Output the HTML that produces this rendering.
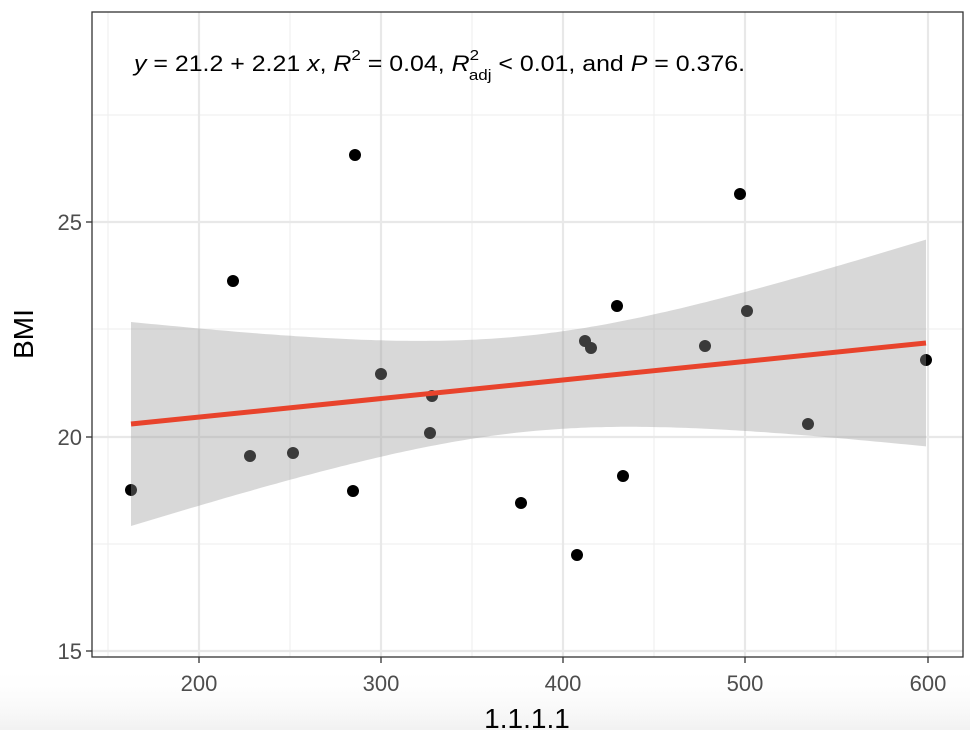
<!DOCTYPE html>
<html><head><meta charset="utf-8"><style>
html,body{margin:0;padding:0;background:#fff;}
svg{display:block;font-family:"Liberation Sans",Arial,sans-serif;}
</style></head><body>
<svg width="970" height="730" viewBox="0 0 970 730" xmlns="http://www.w3.org/2000/svg">
<defs><linearGradient id="fade" x1="0" y1="0" x2="0" y2="1"><stop offset="0" stop-color="#fff" stop-opacity="0"/><stop offset="1" stop-color="#eee" stop-opacity="0.8"/></linearGradient></defs>
<rect x="0" y="665" width="970" height="65" fill="url(#fade)"/>
<rect x="92" y="12" width="871" height="645" fill="#fff"/>
<g stroke="#f0f0f0" stroke-width="1.2">
<line x1="108" y1="12" x2="108" y2="657"/><line x1="290" y1="12" x2="290" y2="657"/><line x1="472" y1="12" x2="472" y2="657"/><line x1="654" y1="12" x2="654" y2="657"/><line x1="836" y1="12" x2="836" y2="657"/>
<line x1="92" y1="115" x2="963" y2="115"/><line x1="92" y1="329" x2="963" y2="329"/><line x1="92" y1="544" x2="963" y2="544"/>
</g>
<g stroke="#e8e8e8" stroke-width="2.2">
<line x1="199" y1="12" x2="199" y2="657"/><line x1="381" y1="12" x2="381" y2="657"/><line x1="563" y1="12" x2="563" y2="657"/><line x1="745" y1="12" x2="745" y2="657"/><line x1="928" y1="12" x2="928" y2="657"/>
<line x1="92" y1="222" x2="963" y2="222"/><line x1="92" y1="437" x2="963" y2="437"/><line x1="92" y1="651" x2="963" y2="651"/>
</g>
<g fill="#000">
<circle cx="131" cy="490" r="6"/><circle cx="233" cy="281" r="6"/><circle cx="250" cy="456" r="6"/><circle cx="293" cy="453" r="6"/><circle cx="355" cy="155" r="6"/><circle cx="353" cy="491" r="6"/><circle cx="381" cy="374" r="6"/><circle cx="432" cy="396" r="6"/><circle cx="430" cy="433" r="6"/><circle cx="521" cy="503" r="6"/><circle cx="577" cy="555" r="6"/><circle cx="585" cy="341" r="6"/><circle cx="591" cy="348" r="6"/><circle cx="617" cy="306" r="6"/><circle cx="623" cy="476" r="6"/><circle cx="705" cy="346" r="6"/><circle cx="740" cy="194" r="6"/><circle cx="747" cy="311" r="6"/><circle cx="808" cy="424" r="6"/><circle cx="926" cy="360" r="6"/>
</g>
<path id="band" fill="#999" fill-opacity="0.38" d=""/>
<line x1="131" y1="424" x2="926" y2="343" stroke="#e8432c" stroke-width="5"/>
<rect x="92" y="12" width="871" height="645" fill="none" stroke="#333" stroke-width="1.3"/>
<g stroke="#333" stroke-width="1.3">
<line x1="86" y1="222" x2="92" y2="222"/><line x1="86" y1="437" x2="92" y2="437"/><line x1="86" y1="651" x2="92" y2="651"/>
<line x1="199" y1="657" x2="199" y2="663"/><line x1="381" y1="657" x2="381" y2="663"/><line x1="563" y1="657" x2="563" y2="663"/><line x1="745" y1="657" x2="745" y2="663"/><line x1="928" y1="657" x2="928" y2="663"/>
</g>
<g fill="#4d4d4d" font-size="22">
<text x="82" y="230" text-anchor="end">25</text><text x="82" y="445" text-anchor="end">20</text><text x="82" y="659" text-anchor="end">15</text>
<text x="199" y="691" text-anchor="middle">200</text><text x="381" y="691" text-anchor="middle">300</text><text x="563" y="691" text-anchor="middle">400</text><text x="745" y="691" text-anchor="middle">500</text><text x="928" y="691" text-anchor="middle">600</text>
</g>
<text x="527" y="728" text-anchor="middle" font-size="28" fill="#000">1.1.1.1</text>
<text transform="translate(33,334) rotate(-90)" text-anchor="middle" font-size="28" fill="#000">BMI</text>
<text x="134" y="71" font-size="22" fill="#000" textLength="611" lengthAdjust="spacingAndGlyphs"><tspan font-style="italic">y</tspan> = 21.2 + 2.21 <tspan font-style="italic">x</tspan>, <tspan font-style="italic">R</tspan><tspan font-size="15" dy="-11">2</tspan><tspan dy="11"> = 0.04, </tspan><tspan font-style="italic">R</tspan><tspan font-size="15" dy="-11">2</tspan><tspan font-size="15" dx="-9" dy="20">adj</tspan><tspan dy="-9"> &lt; 0.01, and </tspan><tspan font-style="italic">P</tspan> = 0.376.</text>
</svg>
<script>
(function(){var up=[],lo=[];for(var x=131;x<=926;x+=5){var y=424+(343-424)*(x-131)/795;var h=Math.sqrt(2304+0.0522*(x-525)*(x-525));up.push(x+","+(y-h).toFixed(1));lo.unshift(x+","+(y+h).toFixed(1));}
document.getElementById("band").setAttribute("d","M"+up.join(" L")+" L"+lo.join(" L")+"Z");})();
</script>
</body></html>
